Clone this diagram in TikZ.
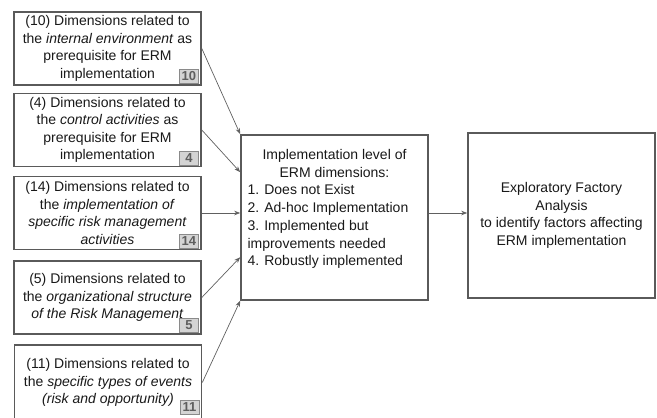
\documentclass[tikz,border=0pt]{standalone}
\usepackage{fontspec}
\setmainfont{Liberation Sans}
\usetikzlibrary{arrows.meta}
\definecolor{boxgray}{HTML}{5A5A5A}
\definecolor{arrowgray}{HTML}{606060}
\definecolor{badgefill}{HTML}{D4D4D4}
\definecolor{badgeborder}{HTML}{8A8A8A}
\definecolor{badgetext}{HTML}{5E5E5E}
\begin{document}
\begin{tikzpicture}[x=1pt,y=-1pt,
  box/.style={draw=boxgray, line width=1.6pt, fill=white, inner sep=0pt, align=center,
              font=\fontsize{14}{17.5}\selectfont, text=black!90},
  leftbox/.style={box, minimum width=187pt, minimum height=73pt},
  badge/.style={draw=badgeborder, fill=badgefill, line width=0.8pt, inner sep=0pt,
                font=\fontsize{13}{13}\selectfont\bfseries, text=badgetext,
                minimum height=14pt, minimum width=19pt, anchor=south east},
  conn/.style={draw=arrowgray, line width=0.7pt, -{Stealth[length=6pt,width=4.5pt]}},
  plain/.style={inner sep=0pt, align=center, font=\fontsize{14}{17.5}\selectfont, text=black!90}]
\useasboundingbox (0,0) rectangle (657,418);

\node[leftbox] (b1) at (107.5,48.5) {(10) Dimensions related to\\ the \textit{internal environment} as\\ prerequisite for ERM\\ implementation};
\node[leftbox] (b2) at (107.5,130) {(4) Dimensions related to\\ the \textit{control activities} as\\ prerequisite for ERM\\ implementation};
\node[leftbox] (b3) at (107.5,213) {(14) Dimensions related to\\ the \textit{implementation of}\\ \textit{specific risk management}\\ \textit{activities}};
\node[leftbox] (b4) at (107.5,297.5) {(5) Dimensions related to\\ the \textit{organizational structure}\\ \textit{of the Risk Management}};
\node[leftbox, minimum height=75pt] (b5) at (108,382.5) {(11) Dimensions related to\\ the \textit{specific types of events}\\ \textit{(risk and opportunity)}};

\node[badge] (g1) at ([xshift=-3pt,yshift=2pt]b1.south east) {10};
\node[badge] (g2) at ([xshift=-3pt,yshift=2pt]b2.south east) {4};
\node[badge] (g3) at ([xshift=-3pt,yshift=2pt]b3.south east) {14};
\node[badge] (g4) at ([xshift=-3pt,yshift=2pt]b4.south east) {5};
\node[badge] (g5) at ([xshift=-3pt,yshift=6pt]b5.south east) {11};

\node[box, minimum width=187pt, minimum height=165pt] (c) at (334.5,217.5) {};
\node[plain] (ct) at (334.5,209) {%
  \begin{minipage}{174pt}\fontsize{14}{17.7}\selectfont
  \centering Implementation level of\\ ERM dimensions:\par
  \raggedright 1. Does not Exist\\ 2. Ad-hoc Implementation\\ 3. Implemented but\\ improvements needed\\ 4. Robustly implemented
  \end{minipage}};

\node[box, minimum width=187pt, minimum height=165pt] (r) at (561.5,215.5) {Exploratory Factory\\ Analysis\\ to identify factors affecting\\ ERM implementation};

\draw[conn] (b1.east) -- (c.north west);
\draw[conn] (b2.east) -- ([yshift=-38pt]c.north west);
\draw[conn] (b3.east) -- (c.west |- b3.east);
\draw[conn] (b4.east) -- ([yshift=-123pt]c.north west);
\draw[conn] (b5.east) -- (c.south west);
\draw[conn] (c.east |- b3.east) -- (r.west |- b3.east);
\end{tikzpicture}
\end{document}
